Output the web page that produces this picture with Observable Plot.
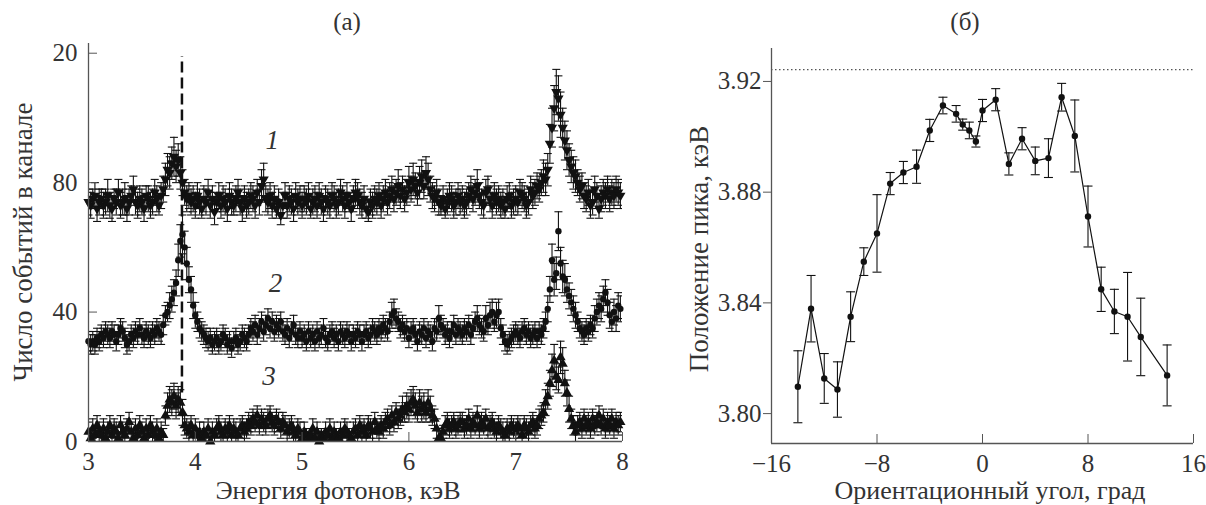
<!DOCTYPE html>
<html>
<head>
<meta charset="utf-8">
<script src="https://cdn.jsdelivr.net/npm/d3@7"></script>
<script src="https://cdn.jsdelivr.net/npm/@observablehq/plot@0.6"></script>
<style>
  html, body { margin: 0; padding: 0; background: #fff; }
  #wrap { position: relative; width: 1206px; height: 505px; font-family: "Liberation Serif", "DejaVu Serif", serif; color: #333; overflow: hidden; }
  .panel { position: absolute; top: 0; }
  .ttl { position: absolute; font-size: 26px; white-space: nowrap; transform: translate(-50%, -50%); line-height: 0.8; }
  .ttl.small { font-size: 25px; }
  .ttl.rot { font-size: 27px; transform: translate(-50%, -50%) rotate(-90deg); }
</style>
</head>
<body>
<div id="wrap"></div>
<script>
// ---------- Panel (а): spectra, channel step 0.02 keV ----------
const energy = [
  3.00,3.02,3.04,3.06,3.08,3.10,3.12,3.14,3.16,3.18,3.20,3.22,3.24,3.26,3.28,3.30,3.32,3.34,3.36,3.38,3.40,3.42,3.44,3.46,3.48,
  3.50,3.52,3.54,3.56,3.58,3.60,3.62,3.64,3.66,3.68,3.70,3.72,3.74,3.76,3.78,3.80,3.82,3.84,3.86,3.88,3.90,3.92,3.94,3.96,3.98,
  4.00,4.02,4.04,4.06,4.08,4.10,4.12,4.14,4.16,4.18,4.20,4.22,4.24,4.26,4.28,4.30,4.32,4.34,4.36,4.38,4.40,4.42,4.44,4.46,4.48,
  4.50,4.52,4.54,4.56,4.58,4.60,4.62,4.64,4.66,4.68,4.70,4.72,4.74,4.76,4.78,4.80,4.82,4.84,4.86,4.88,4.90,4.92,4.94,4.96,4.98,
  5.00,5.02,5.04,5.06,5.08,5.10,5.12,5.14,5.16,5.18,5.20,5.22,5.24,5.26,5.28,5.30,5.32,5.34,5.36,5.38,5.40,5.42,5.44,5.46,5.48,
  5.50,5.52,5.54,5.56,5.58,5.60,5.62,5.64,5.66,5.68,5.70,5.72,5.74,5.76,5.78,5.80,5.82,5.84,5.86,5.88,5.90,5.92,5.94,5.96,5.98,
  6.00,6.02,6.04,6.06,6.08,6.10,6.12,6.14,6.16,6.18,6.20,6.22,6.24,6.26,6.28,6.30,6.32,6.34,6.36,6.38,6.40,6.42,6.44,6.46,6.48,
  6.50,6.52,6.54,6.56,6.58,6.60,6.62,6.64,6.66,6.68,6.70,6.72,6.74,6.76,6.78,6.80,6.82,6.84,6.86,6.88,6.90,6.92,6.94,6.96,6.98,
  7.00,7.02,7.04,7.06,7.08,7.10,7.12,7.14,7.16,7.18,7.20,7.22,7.24,7.26,7.28,7.30,7.32,7.34,7.36,7.38,7.40,7.42,7.44,7.46,7.48,
  7.50,7.52,7.54,7.56,7.58,7.60,7.62,7.64,7.66,7.68,7.70,7.72,7.74,7.76,7.78,7.80,7.82,7.84,7.86,7.88,7.90,7.92,7.94,7.96,7.98
];
const counts1 = [
  74,73,75,76,72,74,75,73,74,76,73,72,75,74,77,73,74,75,72,74,76,78,74,73,75,
  74,72,76,75,73,74,77,75,73,76,78,81,84,83,86,88,85,87,83,80,77,75,76,74,75,
  73,76,74,72,75,74,77,73,75,71,74,76,73,75,74,72,76,74,73,75,77,74,72,75,73,
  74,76,75,73,77,74,79,81,75,74,76,73,75,72,74,70,73,76,73,75,74,72,76,74,75,
  73,75,74,76,72,74,75,73,76,74,72,75,74,73,76,75,73,74,77,75,73,76,74,72,75,
  77,76,74,73,75,72,71,74,73,75,74,76,73,75,77,74,76,78,75,77,79,76,78,75,77,
  80,78,81,79,77,80,82,79,83,81,78,76,75,77,74,73,75,72,74,76,75,73,74,76,74,
  75,73,74,76,78,75,77,79,76,74,73,77,78,75,73,76,74,75,73,74,72,75,76,73,74,
  75,74,77,76,75,73,74,78,76,77,79,78,80,82,81,84,92,97,103,108,106,101,97,93,90,
  87,85,83,82,80,78,79,76,75,77,73,74,78,76,72,75,77,76,78,75,77,76,78,77,76
];
const errors1 = [
  4,4,3,4,4,4,3,4,4,5,4,4,3,4,4,4,4,5,4,4,3,4,4,4,4,
  4,4,3,4,4,4,4,4,3,4,4,5,5,5,5,6,5,5,5,4,4,4,4,4,4,
  4,4,4,3,4,4,4,4,4,4,3,4,4,4,4,4,4,4,3,4,4,4,4,4,4,
  4,4,4,4,4,4,5,5,4,4,4,4,4,3,4,3,4,4,4,4,4,4,4,4,4,
  4,4,4,4,3,4,4,4,4,4,4,4,4,4,4,4,4,4,4,4,4,4,3,4,4,
  4,4,4,4,4,3,3,4,4,4,4,4,4,4,4,4,4,4,4,4,5,4,4,4,4,
  5,4,5,4,4,5,5,4,5,5,4,4,4,4,4,3,4,3,4,4,4,4,4,4,4,
  4,4,4,4,4,4,4,5,4,4,4,4,4,4,4,4,4,4,4,4,3,4,4,4,4,
  4,4,4,4,4,4,4,4,4,4,4,4,4,5,5,5,6,6,7,7,7,7,6,6,6,
  5,5,5,5,4,4,4,4,4,4,4,4,4,4,3,4,4,4,4,4,4,4,4,4,4
];
const counts2 = [
  31,30,31,30,32,31,33,32,34,33,32,34,33,31,33,35,34,32,30,31,33,32,34,33,35,
  33,32,34,33,32,34,33,35,34,33,36,39,40,42,44,46,49,56,62,64,60,55,50,47,42,
  39,37,35,34,33,32,31,32,30,31,32,30,31,33,32,30,31,29,31,32,30,31,33,32,31,
  33,35,34,36,33,35,37,34,36,38,35,37,34,36,35,37,34,33,35,32,34,36,33,32,34,
  32,33,31,34,32,33,31,34,32,33,35,32,31,33,34,32,33,31,34,33,32,34,33,31,33,
  32,34,33,31,33,34,32,33,35,34,33,35,34,36,35,34,37,39,40,38,37,35,36,34,35,
  32,34,35,33,31,34,33,35,32,34,33,31,35,34,38,36,35,33,34,32,34,36,33,35,34,
  33,35,34,36,33,35,37,38,36,35,34,38,36,39,40,37,39,40,35,33,31,30,31,32,33,
  34,33,32,34,35,33,34,32,33,34,32,34,33,35,37,41,47,56,50,52,65,55,51,50,47,
  45,43,41,39,37,35,34,33,35,34,36,35,38,40,42,41,44,46,43,39,37,40,38,42,41
];
const errors2 = [
  3,3,3,3,3,3,3,3,3,3,3,3,3,3,3,3,3,3,3,3,3,3,3,3,3,
  3,3,3,3,3,3,3,3,3,3,3,3,3,4,4,4,4,5,5,6,5,5,4,4,4,
  4,3,3,3,3,3,3,3,3,3,3,3,3,3,3,3,3,3,3,3,3,3,3,3,3,
  3,3,3,3,3,3,3,3,3,3,3,3,3,3,3,3,3,3,3,3,3,3,3,3,3,
  3,3,3,3,3,3,3,3,3,3,3,3,3,3,3,3,3,3,3,3,3,3,3,3,3,
  3,3,3,3,3,3,3,3,3,3,3,3,3,3,3,3,3,4,4,3,3,3,3,3,3,
  3,3,3,3,3,3,3,3,3,3,3,3,3,3,4,3,3,3,3,3,3,3,3,3,3,
  3,3,3,3,3,3,3,4,3,3,3,4,3,4,4,3,4,4,3,3,3,3,3,3,3,
  3,3,3,3,3,3,3,3,3,3,3,3,3,3,3,4,4,5,5,5,6,5,5,5,4,
  4,4,4,4,3,3,3,3,3,3,3,3,4,4,4,4,4,4,4,4,3,4,4,4,4
];
const counts3 = [
  3,1,4,2,5,3,2,4,1,3,5,2,4,3,1,5,3,2,4,6,3,1,4,2,5,
  3,1,4,2,5,3,2,4,1,3,2,8,11,13,12,14,11,13,12,9,5,4,3,5,2,
  4,2,3,1,3,2,4,0,3,2,4,5,3,2,4,3,5,2,4,3,2,4,5,3,4,
  6,5,7,6,8,5,7,6,5,7,8,6,5,7,6,4,6,5,3,4,5,3,2,4,3,
  1,3,2,1,2,4,1,3,0,2,1,3,2,4,1,3,2,1,3,2,4,3,2,1,3,
  4,2,5,3,4,2,5,4,3,6,4,3,5,4,6,7,5,8,6,9,7,8,10,9,11,
  10,12,13,11,9,12,10,11,9,12,10,8,7,4,1,1,3,5,6,4,5,6,4,5,6,
  6,4,5,7,4,6,5,8,4,6,5,7,4,5,6,4,3,5,4,3,2,4,3,5,4,
  3,5,4,2,5,4,3,5,6,4,5,7,8,9,12,14,18,22,25,20,19,26,24,18,15,
  10,7,5,3,5,6,4,7,5,6,4,7,5,6,8,5,7,4,6,5,7,4,6,5,6
];
const errors3 = [
  3,2,3,2,3,3,2,3,2,3,3,2,3,3,2,3,3,2,3,3,3,2,3,2,3,
  3,2,3,2,3,3,2,3,2,3,2,3,4,4,4,4,4,4,4,4,3,3,3,3,2,
  3,2,3,2,3,2,3,2,3,2,3,3,3,2,3,3,3,2,3,3,2,3,3,3,3,
  3,3,3,3,3,3,3,3,3,3,3,3,3,3,3,3,3,3,3,3,3,3,2,3,3,
  2,3,2,2,2,3,2,3,2,2,2,3,2,3,2,3,2,2,3,2,3,3,2,2,3,
  3,2,3,3,3,2,3,3,3,3,3,3,3,3,3,3,3,3,3,3,3,3,4,3,4,
  4,4,4,4,3,4,4,4,3,4,4,3,3,3,3,2,2,3,3,3,3,3,3,3,3,
  3,3,3,3,3,3,3,3,3,3,3,3,3,3,3,3,3,3,3,3,2,3,3,3,3,
  3,3,3,2,3,3,3,3,3,3,3,3,3,3,4,4,4,5,5,4,4,5,5,4,4,
  4,3,3,3,3,3,3,3,3,3,3,3,3,3,3,3,3,3,3,3,3,3,3,3,3
];
const energyDomain = [3, 8];
const energyTicks = [3, 4, 5, 6, 7, 8];
const countDomain = [0, 123];
const countTicks = [0, 40, 80, 120];
const countTickLabels = ["0", "40", "80", "20"];
const markerLine = [3.875];
const markerSpan = [15, 119];
const seriesNames = ["1", "2", "3"];
const seriesLabelX = [4.72, 4.75, 4.69];
const seriesLabelY = [93, 49, 20];

// ---------- Panel (б): peak position ----------
const angle = [-14,-13,-12,-11,-10,-9,-8,-7,-6,-5,-4,-3,-2,-1.5,-1,-0.5,0,1,2,3,4,5,6,7,8,9,10,11,12,14];
const peakPos = [3.8097,3.8379,3.8127,3.8087,3.8350,3.8549,3.8651,3.8831,3.8871,3.8892,3.9023,3.9113,3.9083,3.9044,3.9023,3.8983,3.9095,3.9134,3.8902,3.8993,3.8913,3.8923,3.9143,3.9003,3.8712,3.8449,3.8369,3.8350,3.8277,3.8138];
const peakErr = [0.013,0.012,0.009,0.010,0.009,0.005,0.014,0.004,0.004,0.006,0.004,0.003,0.003,0.002,0.003,0.002,0.004,0.004,0.004,0.004,0.005,0.007,0.005,0.013,0.011,0.008,0.008,0.016,0.014,0.011];
const angleDomain = [-16, 16];
const angleTicks = [-16, -8, 0, 8, 16];
const peakDomain = [3.7892, 3.9319];
const peakTicks = [3.80, 3.84, 3.88, 3.92];
const referenceLine = [3.9243];

// ---------- drawing ----------
const ink = "#111";
const axisInk = "#555";
const font = '"Liberation Serif", "DejaVu Serif", serif';
const capSymbol = { draw(ctx) { ctx.moveTo(-4, 0); ctx.lineTo(4, 0); } };
const capSymbolWide = { draw(ctx) { ctx.moveTo(-4.5, 0); ctx.lineTo(4.5, 0); } };

function rowsOf(xs, ys, es) { return xs.map((x, i) => ({ x, y: ys[i], e: es[i] })); }

function seriesMarks(rows, markOpts) {
  return [
    Plot.ruleX(rows, { x: "x", y1: d => d.y - d.e, y2: d => d.y + d.e, stroke: ink, strokeWidth: 1.1, clip: true }),
    Plot.dot(rows, { x: "x", y: d => d.y + d.e, symbol: capSymbol, stroke: ink, fill: "none", strokeWidth: 1.1, clip: true }),
    Plot.dot(rows, { x: "x", y: d => d.y - d.e, symbol: capSymbol, stroke: ink, fill: "none", strokeWidth: 1.1, clip: true }),
    Plot.dot(rows, { x: "x", y: "y", fill: ink, stroke: "none", ...markOpts })
  ];
}

const s1 = rowsOf(energy, counts1, errors1);
const s2 = rowsOf(energy, counts2, errors2);
const s3 = rowsOf(energy, counts3, errors3);
const seriesLabels = seriesNames.map((t, i) => ({ t, x: seriesLabelX[i], y: seriesLabelY[i] }));

const leftPlot = Plot.plot({
  width: 640, height: 505,
  marginLeft: 88, marginRight: 18, marginTop: 43, marginBottom: 64,
  style: { fontFamily: font, fontSize: "25px", color: "#333", background: "transparent", overflow: "visible" },
  x: { domain: energyDomain },
  y: { domain: countDomain },
  marks: [
    Plot.ruleX(markerLine, { y1: markerSpan[0], y2: markerSpan[1], stroke: ink, strokeWidth: 2.5, strokeDasharray: "11,5" }),
    ...seriesMarks(s1, { symbol: "triangle", r: 3.8, rotate: 180 }),
    ...seriesMarks(s2, { symbol: "circle", r: 3.2 }),
    ...seriesMarks(s3, { symbol: "triangle", r: 3.8 }),
    Plot.text(seriesLabels, { x: "x", y: "y", text: "t", fontStyle: "italic", fontSize: 27, fill: "#333" }),
    Plot.ruleX([energyDomain[0]], { stroke: axisInk, strokeWidth: 1.3 }),
    Plot.ruleY([countDomain[0]], { stroke: axisInk, strokeWidth: 1.3 }),
    Plot.axisX({ ticks: energyTicks, tickSize: -9, tickPadding: 20, tickFormat: d => String(d), label: null, stroke: axisInk, fill: "#333" }),
    Plot.axisY({ ticks: countTicks, tickSize: -9, tickPadding: 20, tickFormat: d => countTickLabels[countTicks.indexOf(d)], label: null, stroke: axisInk, fill: "#333" })
  ]
});

const peakRows = angle.map((x, i) => ({ x, y: peakPos[i], e: peakErr[i] }));
const rightPlot = Plot.plot({
  width: 566, height: 505,
  marginLeft: 131, marginRight: 13, marginTop: 48, marginBottom: 62,
  style: { fontFamily: font, fontSize: "25px", color: "#333", background: "transparent", overflow: "visible" },
  x: { domain: angleDomain },
  y: { domain: peakDomain },
  marks: [
    Plot.ruleY(referenceLine, { stroke: "#555", strokeWidth: 1.3, strokeDasharray: "1.5,2.5" }),
    Plot.ruleX(peakRows, { x: "x", y1: d => d.y - d.e, y2: d => d.y + d.e, stroke: ink, strokeWidth: 1.1 }),
    Plot.dot(peakRows, { x: "x", y: d => d.y + d.e, symbol: capSymbolWide, stroke: ink, fill: "none", strokeWidth: 1.1 }),
    Plot.dot(peakRows, { x: "x", y: d => d.y - d.e, symbol: capSymbolWide, stroke: ink, fill: "none", strokeWidth: 1.1 }),
    Plot.line(peakRows, { x: "x", y: "y", stroke: ink, strokeWidth: 1.2 }),
    Plot.dot(peakRows, { x: "x", y: "y", r: 3.2, fill: ink, stroke: "none" }),
    Plot.ruleX([angleDomain[0]], { stroke: axisInk, strokeWidth: 1.3 }),
    Plot.ruleY([peakDomain[0]], { stroke: axisInk, strokeWidth: 1.3 }),
    Plot.axisX({ ticks: angleTicks, tickSize: -9, tickPadding: 20, label: null, stroke: axisInk, fill: "#333" }),
    Plot.axisY({ ticks: peakTicks, tickSize: 8, tickPadding: 2, tickFormat: d3.format(".2f"), label: null, stroke: axisInk, fill: "#333" })
  ]
});

const wrap = document.getElementById("wrap");
const lp = document.createElement("div"); lp.className = "panel"; lp.style.left = "0px"; lp.appendChild(leftPlot); wrap.appendChild(lp);
const rp = document.createElement("div"); rp.className = "panel"; rp.style.left = "640px"; rp.appendChild(rightPlot); wrap.appendChild(rp);

function title(text, x, y, cls) {
  const d = document.createElement("div");
  d.className = "ttl" + (cls ? " " + cls : "");
  d.textContent = text;
  d.style.left = x + "px"; d.style.top = y + "px";
  wrap.appendChild(d);
}
title("(а)", 347, 22, "small");
title("(б)", 965, 22, "small");
title("Энергия фотонов, кэВ", 338, 490.5);
title("Ориентационный угол, град", 990, 490.5);
title("Число событий в канале", 24, 242, "rot");
title("Положение пика, кэВ", 700, 249, "rot");
</script>
</body>
</html>
